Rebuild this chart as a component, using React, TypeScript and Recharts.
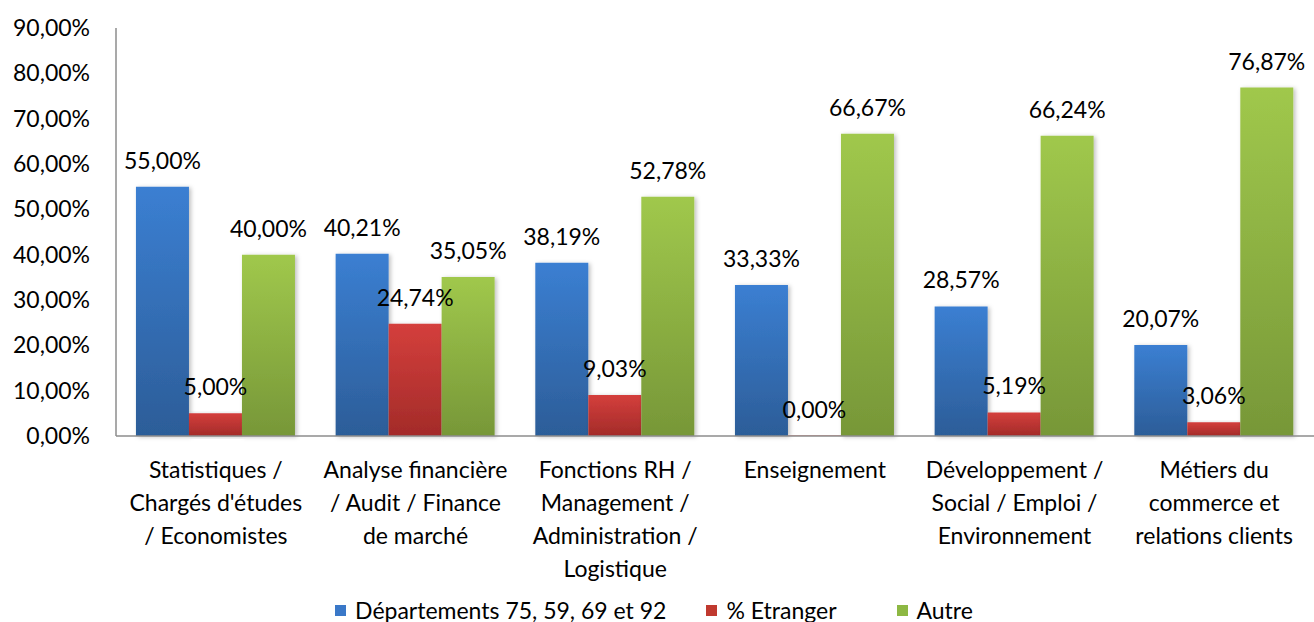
import { BarChart, Bar, XAxis, YAxis, Legend, LabelList } from "recharts"

const categories = [
  "Statistiques /\nChargés d'études\n/ Economistes",
  "Analyse financière\n/ Audit / Finance\nde marché",
  "Fonctions RH /\nManagement /\nAdministration /\nLogistique",
  "Enseignement",
  "Développement /\nSocial / Emploi /\nEnvironnement",
  "Métiers du\ncommerce et\nrelations clients",
]

const departements = [55.0, 40.21, 38.19, 33.33, 28.57, 20.07]
const etranger = [5.0, 24.74, 9.03, 0.0, 5.19, 3.06]
const autre = [40.0, 35.05, 52.78, 66.67, 66.24, 76.87]

const yTicks = [0, 10, 20, 30, 40, 50, 60, 70, 80, 90]

const seriesNames = ["Départements 75, 59, 69 et 92", "% Etranger", "Autre"]
const seriesColors = ["#3a78c8", "#c0392f", "#8db843"]

const data = categories.map((name, i) => ({
  name,
  dep: departements[i],
  etr: etranger[i],
  autre: autre[i],
}))

const FONT = "Lato, 'Open Sans', sans-serif"
const FS = 23

// format like "55,00%"
const fmtPct = (v: number) => `${Number(v).toFixed(2).replace(".", ",")}%`

const CategoryTick = ({ x, y, payload }: any) => {
  const lines = String(payload.value).split("\n")
  return (
    <text x={x} y={y} textAnchor="middle" fontFamily={FONT} fontSize={FS} fill="#000">
      {lines.map((line, i) => (
        <tspan key={i} x={x} dy={i === 0 ? 34 : 33}>
          {line}
        </tspan>
      ))}
    </text>
  )
}

// legend drawn from the series lists so order/colours stay fixed
const LegendContent = () => {
  return (
    <div
      style={{
        display: "flex",
        justifyContent: "center",
        fontFamily: FONT,
        fontSize: FS,
        paddingTop: 10,
        paddingRight: 6,
      }}
    >
      {seriesNames.map((name, index) => (
        <div
          key={`item-${index}`}
          style={{ display: "flex", alignItems: "center", gap: 9, marginLeft: index === 0 ? 0 : index === 1 ? 40 : 60 }}
        >
          <span style={{ width: 11, height: 11, backgroundColor: seriesColors[index], display: "inline-block" }}></span>
          <span style={{ color: "#000" }}>{name}</span>
        </div>
      ))}
    </div>
  )
}

const labelStyle = { fontFamily: FONT, fontSize: FS, fill: "#000" }

export default function App() {
  return (
    <div style={{ position: "absolute", left: 0, top: 0, background: "#fff" }}>
      <BarChart
        width={1314}
        height={622}
        data={data}
        margin={{ top: 28, right: 0, left: 0, bottom: 0 }}
        barCategoryGap="10%"
        barGap={0}
      >
        <defs>
          <linearGradient id="gBlue" x1="0" y1="0" x2="0" y2="1">
            <stop offset="0%" stopColor="#3b7fd2" />
            <stop offset="100%" stopColor="#2c5d98" />
          </linearGradient>
          <linearGradient id="gRed" x1="0" y1="0" x2="0" y2="1">
            <stop offset="0%" stopColor="#d43f3c" />
            <stop offset="100%" stopColor="#a32b29" />
          </linearGradient>
          <linearGradient id="gGreen" x1="0" y1="0" x2="0" y2="1">
            <stop offset="0%" stopColor="#a0c84c" />
            <stop offset="100%" stopColor="#779738" />
          </linearGradient>
          <filter id="shadow" x="-10%" y="-10%" width="130%" height="120%">
            <feDropShadow dx="2" dy="1" stdDeviation="2" floodColor="#000" floodOpacity="0.25" />
          </filter>
        </defs>
        <XAxis
          dataKey="name"
          interval={0}
          height={150}
          tick={<CategoryTick />}
          tickLine={false}
          axisLine={{ stroke: "#8c8c8c", strokeWidth: 1.5 }}
        />
        <YAxis
          domain={[0, 90]}
          ticks={yTicks}
          width={116}
          tickSize={0}
          tickMargin={26}
          tickLine={false}
          tickFormatter={fmtPct}
          tick={{ fontFamily: FONT, fontSize: FS, fill: "#000" }}
          axisLine={{ stroke: "#8c8c8c", strokeWidth: 1.5 }}
        />
        <Legend verticalAlign="bottom" height={36} content={<LegendContent />} wrapperStyle={{ bottom: 0 }} />
        <Bar dataKey="dep" name={seriesNames[0]} fill="url(#gBlue)" filter="url(#shadow)" isAnimationActive={false}>
          <LabelList dataKey="dep" position="top" offset={18} formatter={fmtPct} style={labelStyle} />
        </Bar>
        <Bar dataKey="etr" name={seriesNames[1]} fill="url(#gRed)" filter="url(#shadow)" minPointSize={0.5} isAnimationActive={false}>
          <LabelList dataKey="etr" position="top" offset={18} formatter={fmtPct} style={labelStyle} />
        </Bar>
        <Bar dataKey="autre" name={seriesNames[2]} fill="url(#gGreen)" filter="url(#shadow)" isAnimationActive={false}>
          <LabelList dataKey="autre" position="top" offset={18} formatter={fmtPct} style={labelStyle} />
        </Bar>
      </BarChart>
    </div>
  )
}
